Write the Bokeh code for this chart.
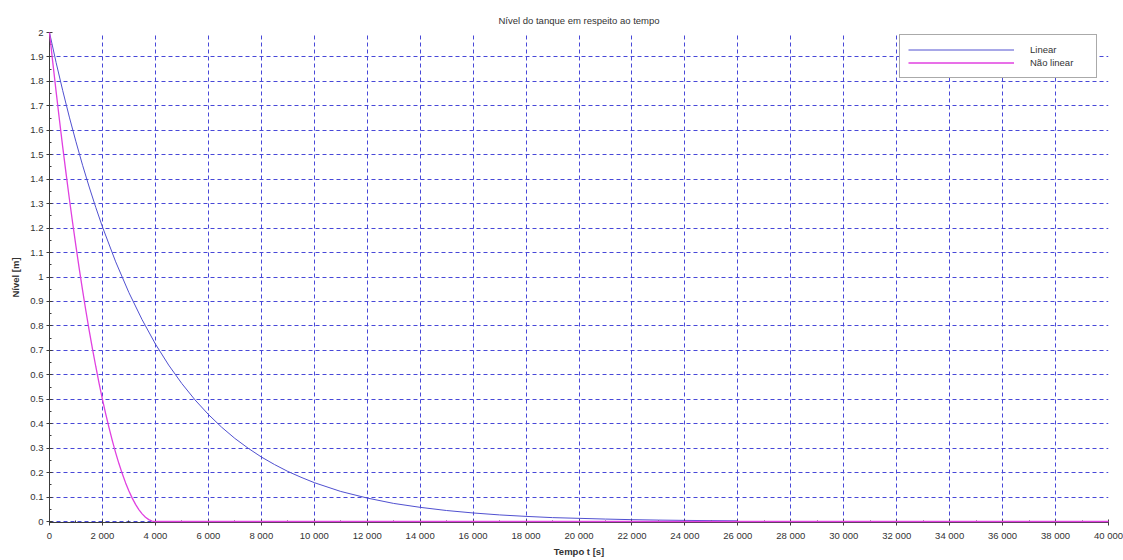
from bokeh.plotting import figure
from bokeh.models import SingleIntervalTicker, CustomJSTickFormatter, Range1d, Legend, LegendItem
from bokeh.embed import file_html
from bokeh.resources import INLINE

# Data
t_lin = [0, 250, 500, 750, 1000, 1250, 1500, 1750, 2000, 2500, 3000, 3500, 4000, 4500,
         5000, 5500, 6000, 6500, 7000, 7500, 8000, 8500, 9000, 9500, 10000, 11000, 12000,
         13000, 14000, 15000, 16000, 17000, 18000, 19000, 20000, 21000, 22000, 23000,
         24000, 25000, 26000]
h_lin = [2.0, 1.877, 1.762, 1.654, 1.553, 1.457, 1.368, 1.284, 1.205, 1.062, 0.936, 0.825,
         0.726, 0.640, 0.564, 0.497, 0.438, 0.386, 0.340, 0.300, 0.264, 0.233, 0.205, 0.181,
         0.159, 0.123, 0.096, 0.074, 0.058, 0.045, 0.035, 0.027, 0.021, 0.016, 0.013, 0.010,
         0.0076, 0.0059, 0.0046, 0.0036, 0.0028]

t_nl = [0, 125, 250, 375, 500, 625, 750, 875, 1000, 1125, 1250, 1375, 1500, 1625, 1750,
        1875, 2000, 2125, 2250, 2375, 2500, 2625, 2750, 2875, 3000, 3125, 3250, 3375,
        3500, 3625, 3750, 3875, 4000, 40000]
h_nl = [2.0, 1.877, 1.758, 1.643, 1.531, 1.424, 1.320, 1.221, 1.125, 1.033, 0.945, 0.861,
        0.781, 0.705, 0.633, 0.564, 0.500, 0.439, 0.383, 0.330, 0.281, 0.236, 0.195, 0.158,
        0.125, 0.0957, 0.0703, 0.0488, 0.0313, 0.0176, 0.0078, 0.002, 0.0, 0.0]

title_text = "Nível do tanque em respeito ao tempo"
x_label = "Tempo t [s]"
y_label = "Nível [m]"
series_names = ["Linear", "Não linear"]

FONT = "Liberation Sans"
GRID = "#4848d8"
AXIS = "#3c3c3c"
FS = "9.5px"

p = figure(width=1123, height=560, output_backend="svg", toolbar_location=None,
           x_range=Range1d(0, 40000), y_range=Range1d(-0.004, 2),
           min_border_left=49, min_border_right=15, min_border_top=32, min_border_bottom=38)

p.title.text = title_text
p.title.align = "center"
p.title.vertical_align = "top"
p.title.text_font = FONT
p.title.text_font_size = FS
p.title.text_font_style = "normal"
p.title.text_color = "#333333"
p.title.standoff = 10

p.outline_line_color = None
p.background_fill_color = "white"

p.xaxis.ticker = SingleIntervalTicker(interval=2000, num_minor_ticks=2)
p.yaxis.ticker = SingleIntervalTicker(interval=0.1, num_minor_ticks=2)
p.xaxis.formatter = CustomJSTickFormatter(code="""
    return Math.round(tick).toString().replace(/\\B(?=(\\d{3})+(?!\\d))/g, " ");
""")
p.yaxis.formatter = CustomJSTickFormatter(code="""
    return Number(tick.toFixed(1)).toString();
""")

for ax in (p.xaxis, p.yaxis):
    ax.axis_line_color = AXIS
    ax.major_tick_line_color = AXIS
    ax.minor_tick_line_color = AXIS
    ax.major_tick_in = 3
    ax.major_tick_out = 3
    ax.minor_tick_in = 2
    ax.minor_tick_out = 0
    ax.major_label_text_font = FONT
    ax.major_label_text_font_size = FS
    ax.major_label_text_color = "#333333"
    ax.axis_label_text_font = FONT
    ax.axis_label_text_font_size = FS
    ax.axis_label_text_font_style = "bold"
    ax.axis_label_text_color = "#333333"

p.xaxis.axis_label = x_label
p.yaxis.axis_label = y_label
p.xaxis.major_label_standoff = 4
p.xaxis.axis_label_standoff = 2
p.yaxis.major_label_standoff = 3
p.yaxis.axis_label_standoff = 6

for g in (p.xgrid, p.ygrid):
    g.grid_line_color = GRID
    g.grid_line_dash = "4 3"
    g.grid_line_width = 1
    g.grid_line_alpha = 1.0

r1 = p.line(t_lin, h_lin, line_color="#5050d0", line_width=1)
r2 = p.line(t_nl, h_nl, line_color="#e040e0", line_width=1.3)
r2.level = "overlay"

legend = Legend(items=[LegendItem(label=series_names[0], renderers=[r1]),
                       LegendItem(label=series_names[1], renderers=[r2])],
                location=(850, 444))
legend.border_line_color = "#555555"
legend.border_line_width = 1
legend.background_fill_color = "white"
legend.background_fill_alpha = 1.0
legend.padding = 8
legend.spacing = 0
legend.margin = 0
legend.glyph_width = 106
legend.glyph_height = 13
legend.label_height = 13
legend.label_width = 58
legend.label_standoff = 16
legend.label_text_font = FONT
legend.label_text_font_size = FS
legend.label_text_color = "#333333"
p.add_layout(legend)

open("out.html", "w").write(file_html(p, INLINE))
